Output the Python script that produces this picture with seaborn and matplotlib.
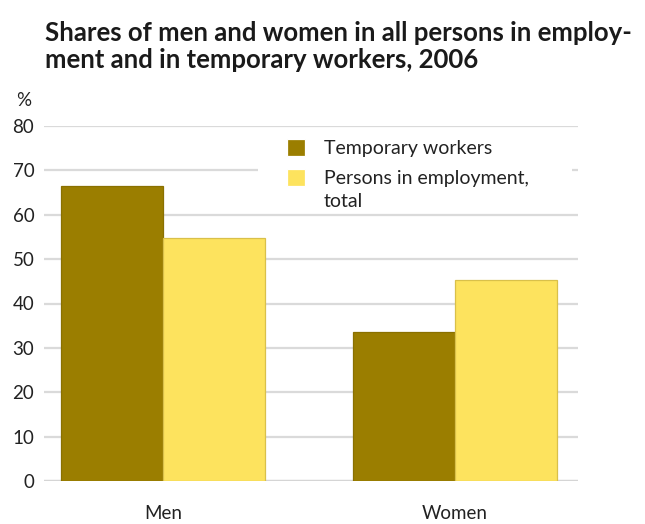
import matplotlib
matplotlib.use("Agg")
import matplotlib.pyplot as plt
from matplotlib.patches import Rectangle
import seaborn as sns
import pandas as pd

# Data
groups = ["Men", "Women"]
series = ["Temporary workers", "Persons in employment,\ntotal"]
temporary_workers = [66.4, 33.6]
employment_total = [54.8, 45.2]
y_ticks = [0, 10, 20, 30, 40, 50, 60, 70, 80]
title_lines = ["Shares of men and women in all persons in employ-",
               "ment and in temporary workers, 2006"]

colors = ["#9B7E00", "#FDE35E"]
edge_colors = ["#8A7000", "#D9C04A"]
text_color = "#222222"

df = pd.DataFrame({
    "group": groups * 2,
    "series": [series[0]] * 2 + [series[1]] * 2,
    "value": temporary_workers + employment_total,
})

sns.set_theme(style="white")
plt.rcParams["font.family"] = ["Lato", "DejaVu Sans"]

W, H = 645, 524
fig = plt.figure(figsize=(W / 100, H / 100), dpi=100)
ax = fig.add_axes([44 / W, 1 - 481 / H, (578 - 44) / W, (481 - 126) / H])

sns.barplot(data=df, x="group", y="value", hue="series", order=groups,
            hue_order=series, palette=colors, width=0.7, gap=0,
            linewidth=0.9, saturation=1, ax=ax, zorder=3)

for i, s in enumerate(series):
    for bar in ax.containers[i]:
        bar.set_edgecolor(edge_colors[i])

ax.set_ylim(0, 80)
ax.set_xlim(-0.408, 1.421)
ax.set_yticks(y_ticks)
ax.yaxis.grid(True, color="#DADADA", linewidth=1.6, zorder=0)
ax.set_axisbelow(True)
for sp in ax.spines.values():
    sp.set_visible(False)
ax.axhline(0, color="#D5D5D5", linewidth=1.6, zorder=1)
ax.tick_params(axis="both", length=0, labelsize=13.5, colors=text_color)
ax.tick_params(axis="y", pad=7)
ax.tick_params(axis="x", pad=17)
ax.set_xlabel("")
ax.set_ylabel("")

# white panel behind the legend that hides the gridlines there
ax.add_patch(Rectangle((258 / W, 1 - 210 / H), (572 - 258) / W, 80 / H,
                       transform=fig.transFigure, facecolor="white",
                       edgecolor="none", zorder=2, clip_on=False))

fig.text(16 / W, 1 - 100 / H, "%", fontsize=13.5, color=text_color, va="center")

fig.text(45 / W, 1 - 41 / H, title_lines[0], fontsize=18.5, fontweight="bold",
         color="#1a1a1a", va="baseline", ha="left")
fig.text(45 / W, 1 - 68 / H, title_lines[1], fontsize=18.5, fontweight="bold",
         color="#1a1a1a", va="baseline", ha="left")

leg = ax.legend(loc="upper left", bbox_to_anchor=(287 / W, 1 - 139 / H),
                bbox_transform=fig.transFigure, frameon=False, fontsize=14,
                handlelength=0.95, handleheight=0.95, handletextpad=0.95,
                labelspacing=0.66, borderpad=0, borderaxespad=0)
leg.set_zorder(5)
for t in leg.get_texts():
    t.set_color(text_color)
    t.set_linespacing(1.45)
# align the second swatch with the first line of its two-line label
h2 = leg.legend_handles[1]
h2.set_y(h2.get_y() + 9.4)

fig.savefig("out.png", dpi=100, facecolor="white")
